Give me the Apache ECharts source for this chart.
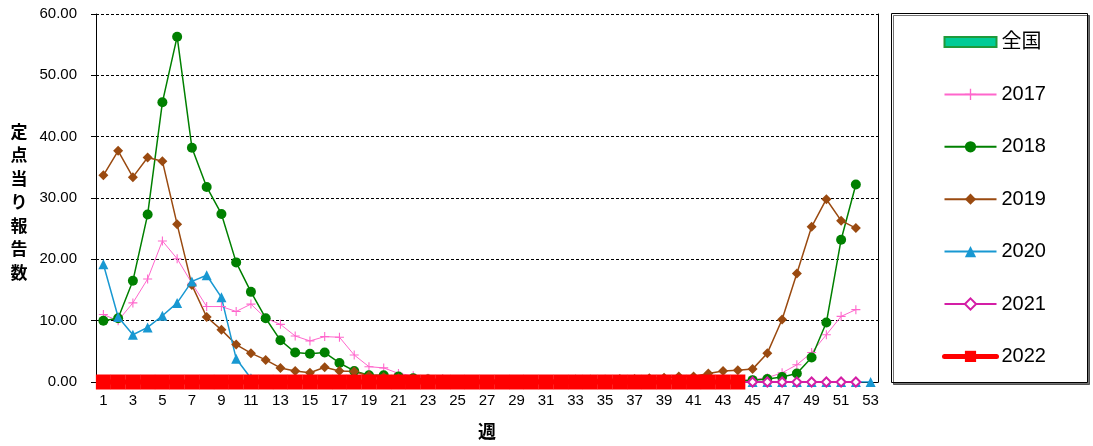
<!DOCTYPE html>
<html>
<head>
<meta charset="utf-8">
<script src="https://cdn.jsdelivr.net/npm/echarts@6/dist/echarts.min.js"></script>
<style>
html,body{margin:0;padding:0;background:#fff;}
#c{width:1093px;height:446px;}
</style>
</head>
<body>
<div id="c"></div>
<script>
var weeks = [];
for (var i = 1; i <= 53; i++) weeks.push(String(i));

var yTicks = [0, 10, 20, 30, 40, 50, 60];

var national = [];

var y2017 = [11.0,10.0,12.9,16.8,23.0,20.1,16.1,12.3,12.3,11.5,12.7,10.4,9.4,7.5,6.7,7.4,7.3,4.4,2.5,2.3,1.4,1.0,0.6,0.5,0.4,0.3,0.3,0.2,0.2,0.2,0.1,0.1,0.1,0.1,0.1,0.1,0.1,0.1,0.1,0.1,0.1,0.1,0.2,0.2,0.4,0.7,1.5,2.8,4.8,7.7,10.7,11.8,null];

var y2018 = [10.0,10.4,16.5,27.3,45.6,56.3,38.2,31.8,27.4,19.5,14.7,10.4,6.8,4.8,4.6,4.8,3.1,1.8,1.1,1.1,0.9,0.6,0.4,0.3,0.2,0.2,0.1,0.1,0.1,0.1,0.1,0.1,0.1,0.1,0.1,0.1,0.1,0.1,0.1,0.1,0.1,0.1,0.1,0.2,0.3,0.5,0.8,1.4,4.0,9.7,23.2,32.2,null];

var y2019 = [33.7,37.7,33.4,36.6,36.0,25.7,15.8,10.6,8.5,6.1,4.7,3.6,2.3,1.8,1.5,2.4,1.8,1.7,1.0,0.8,0.6,0.5,0.4,0.4,0.3,0.3,0.3,0.3,0.3,0.3,0.3,0.3,0.4,0.4,0.4,0.5,0.5,0.6,0.7,0.9,0.9,1.4,1.8,1.9,2.1,4.7,10.2,17.7,25.3,29.8,26.3,25.1,null];

var y2020 = [19.2,10.6,7.7,8.9,10.8,12.9,16.4,17.4,13.8,3.8,0.6,0,0,0,0,0,0,0,0,0,0,0,0,0,0,0,0,0,0,0,0,0,0,0,0,0,0,0,0,0,0,0,0,0,0,0,0,0,0,0,0,0,0];

var y2021 = [0,0,0,0,0,0,0,0,0,0,0,0,0,0,0,0,0,0,0,0,0,0,0,0,0,0,0,0,0,0,0,0,0,0,0,0,0,0,0,0,0,0,0,0,0,0,0,0,0,0,0,0,null];

var y2022 = [0,0,0,0,0,0,0,0,0,0,0,0,0,0,0,0,0,0,0,0,0,0,0,0,0,0,0,0,0,0,0,0,0,0,0,0,0,0,0,0,0,0,0,0];

var FONT = "'Liberation Sans', Arial, 'Noto Sans CJK JP', sans-serif";
var plusPath = 'path://M4.4,0H5.6V4.4H10V5.6H5.6V10H4.4V5.6H0V4.4H4.4Z';

var chart = echarts.init(document.getElementById('c'), null, {renderer: 'canvas'});

function lineSeries(name, data, color, symbol, size, width, extra) {
  var s = {
    name: name,
    type: 'line',
    data: data,
    symbol: symbol,
    symbolSize: size,
    showAllSymbol: true,
    connectNulls: false,
    animation: false,
    lineStyle: {color: color, width: width},
    itemStyle: {color: color}
  };
  if (extra) for (var k in extra) s[k] = extra[k];
  return s;
}

var option = {
  animation: false,
  textStyle: {fontFamily: FONT, color: '#000'},
  grid: {left: 96, right: 215, top: 14, bottom: 64, containLabel: false},
  xAxis: {
    type: 'category',
    data: weeks,
    boundaryGap: true,
    axisLine: {show: true, lineStyle: {color: '#000', width: 1}},
    axisTick: {show: false},
    axisLabel: {interval: 1, fontSize: 15, color: '#000', margin: 11, fontFamily: FONT},
    splitLine: {show: false}
  },
  yAxis: [{
    type: 'value',
    min: yTicks[0],
    max: yTicks[yTicks.length - 1],
    interval: 10,
    axisLine: {show: true, lineStyle: {color: '#000', width: 1}},
    axisTick: {show: true, inside: false, length: 5, lineStyle: {color: '#000'}},
    axisLabel: {fontSize: 15, color: '#000', margin: 19, fontFamily: FONT,
      formatter: function (v) { return v.toFixed(2); }},
    splitLine: {show: true, lineStyle: {color: '#000', width: 1, type: [3, 2]}}
  }, {
    type: 'value',
    position: 'right',
    min: yTicks[0],
    max: yTicks[yTicks.length - 1],
    interval: 10,
    axisLine: {show: true, lineStyle: {color: '#000', width: 1}},
    axisTick: {show: false},
    axisLabel: {show: false},
    splitLine: {show: false}
  }],
  legend: {
    orient: 'vertical',
    left: 942,
    top: 32,
    padding: 0,
    itemGap: 32.4,
    itemWidth: 52,
    itemHeight: 14,
    selectedMode: false,
    textStyle: {fontSize: 20, color: '#000', fontFamily: FONT},
    data: [
      {name: '全国', icon: 'path://M0,0H52V10H0Z'},
      '2017', '2018', '2019', '2020', '2021',
      {name: '2022', lineStyle: {width: 5, cap: 'round'}}
    ]
  },
  graphic: [
    {
      type: 'rect',
      z: -1,
      shape: {x: 891.5, y: 13.5, width: 196, height: 369},
      style: {fill: '#fff', stroke: '#000', lineWidth: 1,
        shadowColor: 'rgba(0,0,0,0.55)', shadowOffsetX: 2, shadowOffsetY: 2, shadowBlur: 0}
    },
    {
      type: 'text',
      x: 19,
      y: 202,
      style: {
        text: '定\n点\n当\nり\n報\n告\n数',
        font: "bold 17px 'Noto Sans CJK JP', sans-serif",
        lineHeight: 23.5,
        fill: '#000',
        textAlign: 'center',
        textVerticalAlign: 'middle'
      }
    },
    {
      type: 'text',
      x: 487,
      y: 431,
      style: {
        text: '週',
        font: "bold 18px 'Noto Sans CJK JP', sans-serif",
        fill: '#000',
        textAlign: 'center',
        textVerticalAlign: 'middle'
      }
    }
  ],
  series: [
    {
      name: '全国',
      type: 'bar',
      data: national,
      animation: false,
      itemStyle: {color: '#00cc96', borderColor: '#1f9a3a', borderWidth: 1}
    },
    lineSeries('2017', y2017, '#ff66cc', plusPath, 9, 1),
    lineSeries('2018', y2018, '#008000', 'circle', 10, 1.5),
    lineSeries('2019', y2019, '#9a4a10', 'diamond', 10, 1.5),
    lineSeries('2020', y2020, '#1898d2', 'triangle', 10, 1.5),
    lineSeries('2021', y2021, '#d41ea6', 'emptyDiamond', 9, 2, {itemStyle: {color: '#d41ea6', borderWidth: 1.5}}),
    lineSeries('2022', y2022, '#ff0000', 'rect', 15, 5, {clip: false, z: 5})
  ]
};

chart.setOption(option);
</script>
</body>
</html>
